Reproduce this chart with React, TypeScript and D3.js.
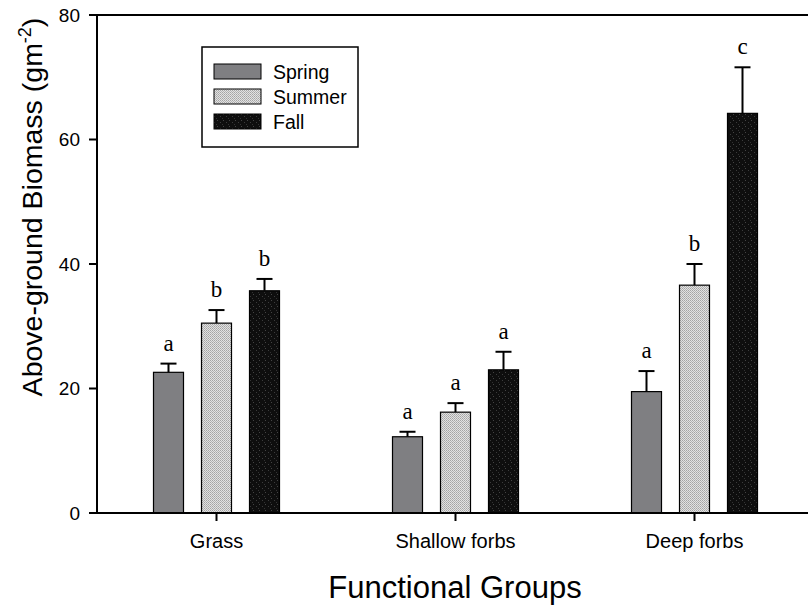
import * as d3 from "d3";

const groups = ["Grass", "Shallow forbs", "Deep forbs"];
const seasons = ["Spring", "Summer", "Fall"];

const springMeans = [22.6, 12.25, 19.5];
const springSE = [1.4, 0.8, 3.3];
const summerMeans = [30.5, 16.2, 36.6];
const summerSE = [2.1, 1.45, 3.4];
const fallMeans = [35.7, 23.0, 64.2];
const fallSE = [1.9, 2.9, 7.4];

const springLetters = ["a", "a", "a"];
const summerLetters = ["b", "a", "b"];
const fallLetters = ["b", "a", "c"];

const yTicks = [0, 20, 40, 60, 80];

const W = 808;
const H = 606;
const M = { top: 15, left: 97, bottom: 513, right: 814 };

const fills: Record<string, string> = {
  Spring: "#7f7f82",
  Summer: "url(#pat-summer)",
  Fall: "url(#pat-fall)",
};

export default function App() {
  const rows = seasons.map((s, si) => ({
    season: s,
    means: [springMeans, summerMeans, fallMeans][si],
    se: [springSE, summerSE, fallSE][si],
    letters: [springLetters, summerLetters, fallLetters][si],
  }));

  const x0 = d3.scaleBand().domain(groups).range([M.left, M.right]).padding(0);
  const x1 = d3
    .scaleBand()
    .domain(seasons)
    .range([-72, 72])
    .paddingInner(0.375)
    .paddingOuter(0.1875);
  const y = d3.scaleLinear().domain([0, 80]).range([M.bottom, M.top]);

  const bw = x1.bandwidth();
  const font = "Arial, 'Liberation Sans', sans-serif";
  const serif = "'Times New Roman', 'Liberation Serif', serif";

  return (
    <svg
      width={W}
      height={H}
      style={{ position: "absolute", left: 0, top: 0, background: "#fff" }}
    >
      <defs>
        <pattern id="pat-summer" width={2} height={2} patternUnits="userSpaceOnUse">
          <rect width={2} height={2} fill="#e2e2e2" />
          <rect width={1} height={1} fill="#a4a4a4" />
          <rect x={1} y={1} width={1} height={1} fill="#b4b4b4" />
        </pattern>
        <pattern id="pat-fall" width={6} height={6} patternUnits="userSpaceOnUse">
          <rect width={6} height={6} fill="#0e0e0e" />
          <rect x={1} y={0} width={1} height={1} fill="#444" />
          <rect x={4} y={2} width={1} height={1} fill="#3c3c3c" />
          <rect x={0} y={4} width={1} height={1} fill="#333" />
        </pattern>
      </defs>

      {/* bars */}
      {rows.map((r) =>
        groups.map((g, gi) => {
          const cx = (x0(g) ?? 0) + x0.bandwidth() / 2 + (x1(r.season) ?? 0);
          const top = y(r.means[gi]);
          const cap = y(r.means[gi] + r.se[gi]);
          return (
            <g key={r.season + g}>
              <line x1={cx + bw / 2} x2={cx + bw / 2} y1={top} y2={cap} stroke="#000" strokeWidth={2} />
              <line x1={cx + bw / 2 - 8} x2={cx + bw / 2 + 8} y1={cap} y2={cap} stroke="#000" strokeWidth={2} />
              <rect
                x={cx}
                y={top}
                width={bw}
                height={M.bottom - top}
                fill={fills[r.season]}
                stroke="#000"
                strokeWidth={1.2}
              />
              <text
                x={cx + bw / 2}
                y={cap - 13}
                textAnchor="middle"
                fontFamily={serif}
                fontSize={23}
                fill="#000"
              >
                {r.letters[gi]}
              </text>
            </g>
          );
        })
      )}

      {/* frame */}
      <line x1={M.left} x2={W + 10} y1={M.top} y2={M.top} stroke="#000" strokeWidth={2} />
      <line x1={M.left} x2={W + 10} y1={M.bottom} y2={M.bottom} stroke="#000" strokeWidth={2} />
      <line x1={M.left} x2={M.left} y1={M.top - 1} y2={M.bottom + 1} stroke="#000" strokeWidth={2} />

      {/* y axis */}
      {yTicks.map((t) => (
        <g key={t}>
          <line x1={M.left - 8} x2={M.left} y1={y(t)} y2={y(t)} stroke="#000" strokeWidth={2} />
          <text
            x={80}
            y={y(t)}
            dy="0.35em"
            textAnchor="end"
            fontFamily={font}
            fontSize={19}
            fill="#000"
          >
            {t}
          </text>
        </g>
      ))}

      {/* x axis */}
      {groups.map((g) => {
        const cx = (x0(g) ?? 0) + x0.bandwidth() / 2;
        return (
          <g key={g}>
            <line x1={cx} x2={cx} y1={M.bottom} y2={M.bottom + 8} stroke="#000" strokeWidth={2} />
            <text x={cx} y={548} textAnchor="middle" fontFamily={font} fontSize={20} fill="#000">
              {g}
            </text>
          </g>
        );
      })}

      <text x={455} y={598} textAnchor="middle" fontFamily={font} fontSize={31} fill="#000">
        Functional Groups
      </text>

      <text
        transform="translate(42,207) rotate(-90)"
        textAnchor="middle"
        fontFamily={font}
        fontSize={28.5}
        fill="#000"
      >
        Above-ground Biomass (gm
        <tspan fontSize={18} dy={-11}>-2</tspan>
        <tspan dy={11}>)</tspan>
      </text>

      {/* legend */}
      <rect x={202} y={47} width={156} height={100} fill="#fff" stroke="#000" strokeWidth={1.5} />
      {seasons.map((s, i) => (
        <g key={s}>
          <rect
            x={214}
            y={64 + i * 25}
            width={47}
            height={15}
            fill={fills[s]}
            stroke="#000"
            strokeWidth={1}
          />
          <text x={273} y={72 + i * 25} dy="0.36em" fontFamily={font} fontSize={19.5} fill="#000">
            {s}
          </text>
        </g>
      ))}
    </svg>
  );
}
